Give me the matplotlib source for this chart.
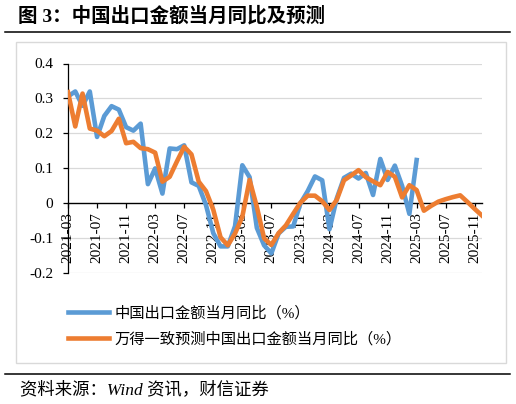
import matplotlib
matplotlib.use("Agg")
import matplotlib.pyplot as plt
from matplotlib.lines import Line2D
from matplotlib.patches import Rectangle

plt.rcParams['font.family'] = ['Liberation Serif', 'Noto Sans CJK SC']
plt.rcParams['axes.unicode_minus'] = False

# months 2021-03 .. 2025-12
months = []
for y in range(2021, 2026):
    for m in range(1, 13):
        if (y == 2021 and m < 3):
            continue
        months.append(f"{y}-{m:02d}")

# actual export yoy, 2021-03 .. 2025-03
actual = [0.306, 0.32, 0.279, 0.32, 0.19, 0.25, 0.278, 0.268, 0.218, 0.208,
          0.228, 0.055, 0.10, 0.028, 0.157, 0.155, 0.166, 0.06, 0.05, -0.005,
          -0.085, -0.123, -0.123, -0.065, 0.109, 0.075, -0.07, -0.12, -0.143, -0.086,
          -0.067, -0.066, 0.0, 0.035, 0.077, 0.066, -0.074, 0.014, 0.073, 0.085,
          0.071, 0.087, 0.024, 0.127, 0.067, 0.108, 0.05, -0.03, 0.124]

# wind consensus forecast, 2021-03 .. 2025-12
forecast = [0.318, 0.22, 0.314, 0.214, 0.208, 0.192, 0.207, 0.242, 0.172, 0.176,
            0.158, 0.155, 0.145, 0.062, 0.076, 0.12, 0.162, 0.14, 0.062, 0.035,
            -0.018, -0.097, -0.12, -0.086, -0.038, 0.067, -0.01, -0.1, -0.119, -0.085,
            -0.063, -0.03, 0.002, 0.022, 0.022, 0.006, -0.019, 0.01, 0.066, 0.08,
            0.095, 0.075, 0.063, 0.052, 0.09, 0.076, 0.017, 0.052, 0.038, -0.021,
            -0.007, 0.005, 0.012, 0.018, 0.023, 0.004, -0.016, -0.035]

yticks = [-0.2, -0.1, 0, 0.1, 0.2, 0.3, 0.4]
ytick_labels = ['-0.2', '-0.1', '0', '0.1', '0.2', '0.3', '0.4']

label_actual = '中国出口金额当月同比（%）'
label_forecast = '万得一致预测中国出口金额当月同比（%）'

W, H = 516, 404
fig = plt.figure(figsize=(W / 100, H / 100), dpi=100)


def fx(px):
    return px / W


def fy(py):
    return 1 - py / H


# frame around chart
fig.patches.append(Rectangle((fx(16), fy(363)), fx(506) - fx(16), fy(41.7) - fy(363),
                             transform=fig.transFigure, fill=False,
                             edgecolor='#D9D9D9', lw=1))
# header/footer rules
fig.lines.append(Line2D([fx(5), fx(510)], [fy(31.7), fy(31.7)], transform=fig.transFigure,
                        color='black', lw=1.1))
fig.lines.append(Line2D([fx(5), fx(510)], [fy(374), fy(374)], transform=fig.transFigure,
                        color='black', lw=1.1))

fig.text(fx(18), fy(16), '图 3：中国出口金额当月同比及预测', fontsize=14, fontweight='bold',
         va='center', ha='left')
fig.text(fx(20), fy(390), '资料来源：Wind 资讯，财信证券', fontsize=12.5, style='italic',
         va='center', ha='left')

ax = fig.add_axes([fx(68), fy(273.3), fx(482) - fx(68), fy(63.5) - fy(273.3)])
ax.spines['bottom'].set_position(('data', 0))
for s in ['top', 'right']:
    ax.spines[s].set_visible(False)

x_idx = list(range(len(months)))
ax.plot(x_idx[:len(actual)], actual, color='#5B9BD5', lw=3.3, label=label_actual,
        solid_joinstyle='round', zorder=3)
ax.plot(x_idx, forecast, color='#ED7D31', lw=3.3, label=label_forecast,
        solid_joinstyle='round', zorder=4)

ax.set_xlim(0, len(months) - 1)
ax.set_ylim(-0.2, 0.4)
ax.set_yticks(yticks)
ax.set_yticklabels(ytick_labels, fontsize=11)
ax.set_xticks(x_idx[::4])
ax.set_xticklabels(months[::4], fontsize=11)

for v in yticks:
    if v != 0:
        ax.axhline(v, color='#D9D9D9', lw=0.9, zorder=1)

ax.spines['bottom'].set_zorder(2)
ax.spines['left'].set_linewidth(0.9)
ax.spines['bottom'].set_linewidth(1.0)
ax.tick_params(axis='y', direction='out', length=3.6, width=0.9, pad=7)
ax.tick_params(axis='x', direction='out', length=3.6, width=0.9, pad=3, labelrotation=90)

fig.legend(loc='upper left', bbox_to_anchor=(fx(62), fy(300)), frameon=False,
           fontsize=11, handlelength=2.7, handletextpad=0.35, labelspacing=0.75,
           borderaxespad=0)

fig.savefig('out.png', dpi=100)
